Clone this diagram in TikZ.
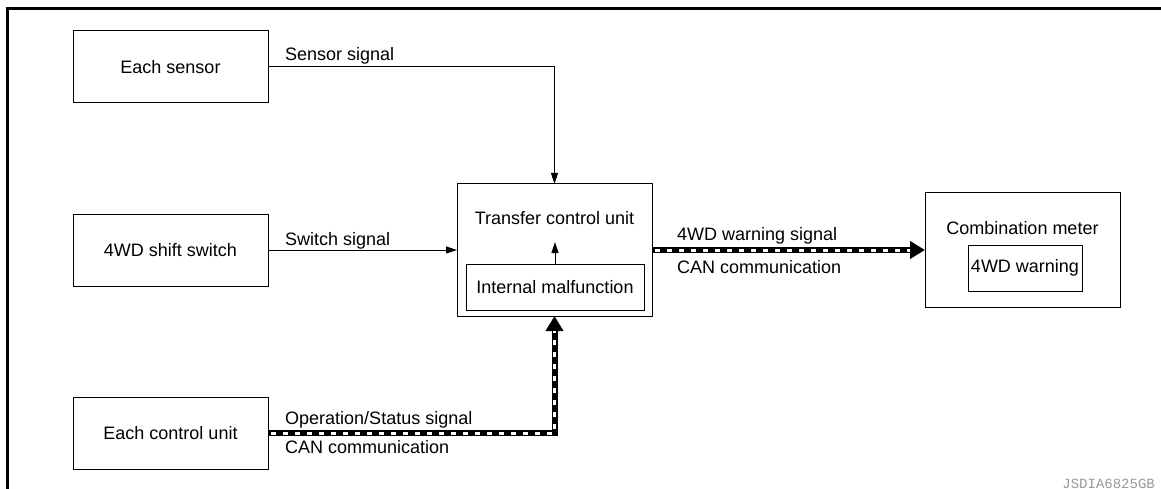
\documentclass[tikz,border=0pt]{standalone}
\usepackage{fontspec}
\setmainfont{Liberation Sans}
\newfontfamily\codefont{Liberation Mono}
\usepackage{tikz}
\usetikzlibrary{arrows.meta}

\begin{document}
\begin{tikzpicture}[
        x=1pt, y=-1pt,
        font=\fontsize{18}{22}\selectfont,
        unit/.style={draw, line width=1pt, minimum width=#1, minimum height=72pt, inner sep=0pt, outer sep=0pt},
        unit/.default=195pt,
        sig/.style={line width=1pt, -{Triangle[length=11pt,width=7pt]}},
        can/.style={line width=6pt, -{Triangle[length=15pt,width=17pt]},
            postaction={draw=white, line width=3pt, dash pattern=on 5pt off 7pt, dash phase=-3pt, -, shorten >=15pt}},
        lbl/.style={anchor=base west, inner sep=0pt},
    ]
    \useasboundingbox (0,0) rectangle (1161,489);
    % frame
    \draw[line width=3pt] (1161,8.5) -- (7.5,8.5) -- (7.5,489);
    % inputs
    \node[unit] (sensor) at (170.5,67) {Each sensor};
    \node[unit] (switch) at (170.5,250) {4WD shift switch};
    \node[unit] (ctrl) at (170.5,433) {Each control unit};
    % Transfer control unit
    \node[unit, minimum height=132pt] (tcu) at (554.5,250) {};
    \node (tcutxt) at (554.5,218.5) {Transfer control unit};
    \node[unit=178pt, minimum height=46pt] (malf) at (555,287) {Internal malfunction};
    % Combination meter
    \node[unit, minimum height=114pt] (meter) at (1022.5,250) {};
    \node (metertxt) at (1022.5,228) {Combination meter};
    \node[unit=114pt, minimum height=46pt] (warn) at (1025,268) {4WD warning};
    % signals
    \draw[sig] (sensor.east) -| (tcu.north);
    \node[lbl] (sensorlbl) at (285,61) {Sensor signal};
    \draw[sig] (switch.east) -- (tcu.west);
    \node[lbl] (switchlbl) at (285,245) {Switch signal};
    \draw[sig] (malf.north) -- ++(0,-22);
    % CAN
    \draw[can] (ctrl.east) -| (tcu.south);
    \node[lbl] (opslbl) at (285,424) {Operation/Status signal};
    \node[lbl] (canlbl1) at (285,453) {CAN communication};
    \draw[can] (tcu.east) -- (meter.west);
    \node[lbl] (warnlbl) at (677,240) {4WD warning signal};
    \node[lbl] (canlbl2) at (677,273) {CAN communication};
    \node[anchor=base east, inner sep=0pt, text=black!40, font=\codefont\fontsize{14}{14}\selectfont] (code) at (1155,488.5) {JSDIA6825GB};
\end{tikzpicture}
\end{document}
